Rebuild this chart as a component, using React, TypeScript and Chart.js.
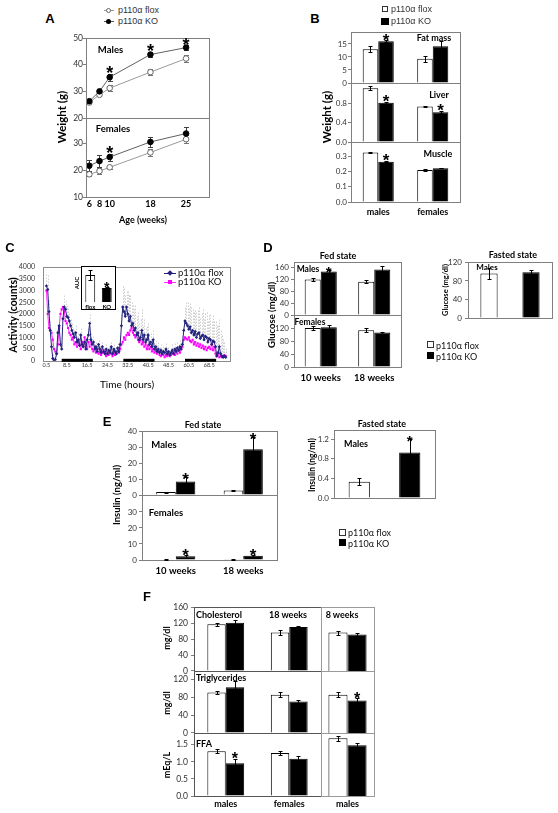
import React, { useEffect, useRef } from 'react';
import { Chart, registerables } from 'chart.js';
Chart.register(...registerables);

const FONT = 'Lato, "DejaVu Sans", sans-serif';
const ARIAL = '"Liberation Sans", Arial, sans-serif';
const AXIS = '#7f7f7f';
const TICK = '#333333';
const FLOX_FILL = '#ffffff';
const KO_FILL = '#000000';

// ---------------- Panel A : body weight ----------------
const A_WEEKS = [6, 8, 10, 18, 25];
const A_MALE_FLOX = [25.8, 28.7, 31.2, 37.2, 42.3];
const A_MALE_FLOX_ERR = [0.5, 0.5, 1.0, 1.2, 1.4];
const A_MALE_KO = [26.3, 30.0, 35.3, 43.8, 46.4];
const A_MALE_KO_ERR = [0.5, 0.5, 1.3, 1.0, 0.8];
const A_MALE_STARS = [false, false, true, true, true];
const A_FEMALE_FLOX = [18.4, 19.6, 21.0, 26.5, 31.4];
const A_FEMALE_FLOX_ERR = [0.6, 1.0, 0.5, 1.3, 1.5];
const A_FEMALE_KO = [21.6, 23.3, 24.8, 30.4, 33.5];
const A_FEMALE_KO_ERR = [2.0, 2.2, 1.3, 1.8, 2.5];
const A_FEMALE_STARS = [false, false, true, false, false];
const A_Y_TICKS_TOP = [20, 30, 40, 50];
const A_Y_TICKS_BOTTOM = [10, 20, 30];

// ---------------- Panel B : tissue weights ----------------
const B_GROUPS = ['males', 'females'];
const B_FAT_FLOX = [13.0, 9.3];
const B_FAT_FLOX_ERR = [1.2, 1.2];
const B_FAT_KO = [16.0, 14.1];
const B_FAT_KO_ERR = [0.4, 2.0];
const B_FAT_STARS = [true, false];
const B_LIVER_FLOX = [1.12, 0.74];
const B_LIVER_FLOX_ERR = [0.04, 0.02];
const B_LIVER_KO = [0.82, 0.62];
const B_LIVER_KO_ERR = [0.02, 0.02];
const B_LIVER_STARS = [true, true];
const B_MUSCLE_FLOX = [0.325, 0.21];
const B_MUSCLE_FLOX_ERR = [0.004, 0.004];
const B_MUSCLE_KO = [0.265, 0.222];
const B_MUSCLE_KO_ERR = [0.003, 0.002];
const B_MUSCLE_STARS = [true, false];
const B_FAT_TICKS = [0, 5, 10, 15];
const B_LIVER_TICKS = [0, 0.2, 0.4, 0.6, 0.8, 1.0];
const B_MUSCLE_TICKS = [0, 0.1, 0.2, 0.3];

// ---------------- Panel C : activity ----------------
const C_TICK_LABELS = ['0.5', '8.5', '16.5', '24.5', '32.5', '40.5', '48.5', '60.5', '68.5'];
const C_TICK_STEP = 16; // samples between labelled ticks
const C_Y_TICKS = [0, 500, 1000, 1500, 2000, 2500, 3000, 3500, 4000];
const C_FLOX = [
  3200, 3050, 2100, 1300, 600, 100, 0, 50, 300, 1200,
  1500, 700, 500, 1800, 2300, 2200, 1900, 1850, 1700, 1500,
  1300, 1150, 1000, 1200, 800, 900, 650, 1100, 700, 600,
  800, 500, 900, 1100, 1600, 900, 700, 800, 500, 600,
  400, 700, 500, 350, 600, 400, 300, 500, 300, 450,
  350, 600, 300, 500, 400, 300, 550, 400, 700, 1500,
  2300, 2100, 1900, 2300, 2000, 1700, 1900, 1500, 1600, 1300,
  1400, 1100, 1200, 900, 1000, 1300, 900, 1100, 800, 900,
  1100, 700, 800, 600, 900, 500, 600, 400, 500, 350,
  450, 300, 400, 350, 500, 300, 400, 250, 350, 450,
  300, 500, 400, 550, 450, 600, 500, 700, 1300, 1700,
  1600, 1500, 1350, 1450, 1200, 1300, 1100, 1250, 1000, 1150,
  1200, 950, 1050, 1100, 900, 1050, 1000, 800, 950, 900,
  700, 850, 800, 600, 200, 350, 600, 300, 200, 150,
  200, 150,
];
const C_FLOX_ERR = [
  500, 600, 500, 400, 300, 200, 150, 150, 200, 300,
  400, 300, 300, 400, 500, 400, 500, 400, 350, 300,
  300, 250, 300, 350, 250, 300, 250, 300, 250, 200,
  250, 200, 250, 300, 400, 300, 200, 250, 200, 200,
  150, 200, 150, 150, 200, 150, 150, 200, 150, 150,
  150, 200, 150, 200, 150, 150, 200, 150, 250, 500,
  900, 1000, 900, 700, 1000, 1100, 900, 1000, 800, 900,
  1000, 800, 900, 700, 800, 900, 600, 700, 600, 600,
  500, 400, 400, 300, 400, 300, 300, 250, 300, 250,
  250, 200, 250, 200, 250, 200, 200, 150, 200, 250,
  200, 250, 200, 250, 250, 300, 300, 350, 500, 600,
  900, 1000, 900, 1000, 1100, 900, 1000, 900, 1100, 1000,
  1100, 900, 1000, 1100, 900, 1000, 1100, 900, 1000, 1100,
  1000, 1100, 900, 1100, 1300, 1200, 1200, 1000, 900, 800,
  600, 400,
];
const C_KO = [
  3000, 2000, 1400, 1300, 1200, 900, 500, 400, 300, 700,
  1400, 2000, 2200, 2300, 2100, 1700, 1600, 1400, 1200, 1100,
  900, 1000, 700, 800, 600, 900, 700, 500, 800, 600,
  1000, 700, 500, 800, 600, 900, 500, 400, 600, 350,
  500, 300, 400, 250, 350, 450, 300, 200, 350, 250,
  400, 300, 200, 350, 250, 300, 400, 350, 500, 700,
  800, 1000, 900, 1100, 1200, 1100, 1300, 1400, 1200, 1100,
  1000, 1100, 900, 800, 900, 700, 800, 600, 700, 500,
  650, 500, 600, 400, 500, 350, 450, 300, 400, 250,
  200, 300, 250, 150, 250, 200, 300, 200, 250, 300,
  350, 250, 400, 300, 450, 350, 500, 600, 900, 1000,
  950, 900, 1000, 850, 800, 900, 700, 800, 650, 750,
  600, 700, 550, 650, 500, 600, 450, 550, 600, 500,
  700, 450, 600, 300, 200, 300, 150, 200, 150, 200,
  250, 200,
];
const C_DARK_PERIODS = [[12, 36.5], [60.5, 85], [109, 133.5]];
const C_AUC_GROUPS = ['flox', 'KO'];
const C_AUC = [100, 52];
const C_AUC_ERR = [19, 3];
const C_AUC_STARS = [false, true];

// ---------------- Panel D : glucose ----------------
const D_GROUPS = ['10 weeks', '18 weeks'];
const D_FED_M_FLOX = [120, 112];
const D_FED_M_FLOX_ERR = [6, 5];
const D_FED_M_KO = [147, 154];
const D_FED_M_KO_ERR = [5, 13];
const D_FED_M_STARS = [true, false];
const D_FED_F_FLOX = [120, 113];
const D_FED_F_FLOX_ERR = [6, 6];
const D_FED_F_KO = [122, 106];
const D_FED_F_KO_ERR = [7, 3];
const D_FAST_GROUPS = ['p110α flox', 'p110α KO'];
const D_FAST = [96, 99];
const D_FAST_ERR = [11, 4];
const D_TICKS_M = [0, 40, 80, 120, 160];
const D_TICKS_F = [0, 40, 80, 120];
const D_TICKS_FAST = [0, 40, 80, 120];

// ---------------- Panel E : insulin ----------------
const E_GROUPS = ['10 weeks', '18 weeks'];
const E_FED_M_FLOX = [1.8, 2.8];
const E_FED_M_FLOX_ERR = [0.3, 0.5];
const E_FED_M_KO = [8.4, 28.6];
const E_FED_M_KO_ERR = [2.6, 7.4];
const E_FED_M_STARS = [true, true];
const E_FED_F_FLOX = [0.3, 0.4];
const E_FED_F_FLOX_ERR = [0.1, 0.1];
const E_FED_F_KO = [2.4, 2.6];
const E_FED_F_KO_ERR = [1.0, 0.6];
const E_FED_F_STARS = [true, true];
const E_FAST_GROUPS = ['p110α flox', 'p110α KO'];
const E_FAST = [0.33, 0.93];
const E_FAST_ERR = [0.07, 0.27];
const E_FAST_STARS = [false, true];
const E_TICKS_M = [0, 10, 20, 30, 40];
const E_TICKS_F = [0, 10, 20, 30];
const E_TICKS_FAST = [0, 0.4, 0.8, 1.2];

// ---------------- Panel F : lipids ----------------
const F_GROUPS = ['males', 'females'];
const F_GROUPS_8W = ['males'];
const F_CHOL_FLOX = [118, 97];
const F_CHOL_FLOX_ERR = [4, 6];
const F_CHOL_KO = [122, 111];
const F_CHOL_KO_ERR = [7, 3];
const F_CHOL8_FLOX = [97];
const F_CHOL8_FLOX_ERR = [5];
const F_CHOL8_KO = [92];
const F_CHOL8_KO_ERR = [3];
const F_TG_FLOX = [91, 86];
const F_TG_FLOX_ERR = [3, 6];
const F_TG_KO = [103, 71];
const F_TG_KO_ERR = [13, 3];
const F_TG8_FLOX = [86];
const F_TG8_FLOX_ERR = [5];
const F_TG8_KO = [73];
const F_TG8_KO_ERR = [5];
const F_TG8_STARS = [true];
const F_FFA_FLOX = [1.31, 1.26];
const F_FFA_FLOX_ERR = [0.06, 0.07];
const F_FFA_KO = [0.96, 1.09];
const F_FFA_KO_ERR = [0.13, 0.07];
const F_FFA_STARS = [true, false];
const F_FFA8_FLOX = [1.69];
const F_FFA8_FLOX_ERR = [0.07];
const F_FFA8_KO = [1.48];
const F_FFA8_KO_ERR = [0.07];
const F_TICKS_CHOL = [0, 40, 80, 120, 160];
const F_TICKS_TG = [0, 40, 80, 120];
const F_TICKS_FFA = [0, 0.5, 1.0, 1.5];

// ---------------- plugins ----------------
function valOf(raw: any): number | null {
  if (typeof raw === 'number') return raw;
  if (raw && typeof raw === 'object') return raw.y;
  return null;
}

function drawErr(chart: any, behind: boolean) {
  const ctx = chart.ctx;
  chart.data.datasets.forEach((ds: any, i: number) => {
    if (!ds.errors || !!ds.errBehind !== behind) return;
    const meta = chart.getDatasetMeta(i);
    const ys = chart.scales[meta.yAxisID];
    ctx.save();
    ctx.strokeStyle = ds.errorColor || '#000';
    ctx.lineWidth = 1;
    if (ds.errorDash) ctx.setLineDash(ds.errorDash);
    const cap = ds.errorCap ?? 2;
    meta.data.forEach((el: any, j: number) => {
      const v = valOf(ds.data[j]);
      const e = ds.errors[j];
      if (v == null || !e) return;
      const x = Math.round(el.x) + 0.5;
      const y1 = Math.round(ys.getPixelForValue(v + e)) + 0.5;
      const y2 = Math.round(ds.errorUpOnly ? ys.getPixelForValue(v) : ys.getPixelForValue(v - e)) + 0.5;
      ctx.beginPath();
      ctx.moveTo(x, y1);
      ctx.lineTo(x, y2);
      if (cap > 0) {
        ctx.moveTo(x - cap, y1);
        ctx.lineTo(x + cap, y1);
        if (!ds.errorUpOnly) {
          ctx.moveTo(x - cap, y2);
          ctx.lineTo(x + cap, y2);
        }
      }
      ctx.stroke();
    });
    ctx.restore();
  });
}

const errorBarPlugin = {
  id: 'errbars',
  beforeDatasetsDraw(chart: any) { drawErr(chart, true); },
  afterDatasetsDraw(chart: any) { drawErr(chart, false); },
};

const starPlugin = {
  id: 'stars',
  afterDatasetsDraw(chart: any) {
    const ctx = chart.ctx;
    chart.data.datasets.forEach((ds: any, i: number) => {
      if (!ds.stars) return;
      const meta = chart.getDatasetMeta(i);
      const ys = chart.scales[meta.yAxisID];
      const size = ds.starSize || 17;
      const gap = ds.starGap ?? 3;
      ctx.save();
      ctx.fillStyle = '#000';
      ctx.font = `bold ${size}px ${ARIAL}`;
      ctx.textAlign = 'center';
      ctx.textBaseline = 'alphabetic';
      ds.stars.forEach((s: boolean, j: number) => {
        if (!s) return;
        const v = valOf(ds.data[j]);
        if (v == null) return;
        const e = (ds.errors && ds.errors[j]) || 0;
        const yTop = ys.getPixelForValue(v + e);
        ctx.fillText('*', meta.data[j].x, yTop - gap + size * 0.42);
      });
      ctx.restore();
    });
  },
};

const framePlugin = {
  id: 'frame',
  afterDatasetsDraw(chart: any, _a: any, opts: any) {
    if (!opts || !opts.color) return;
    const { left, top, right, bottom } = chart.chartArea;
    const ctx = chart.ctx;
    ctx.save();
    ctx.strokeStyle = opts.color;
    ctx.lineWidth = 1;
    ctx.strokeRect(Math.round(left) + 0.5, Math.round(top) + 0.5, Math.round(right - left), Math.round(bottom - top));
    ctx.restore();
  },
};

const darkPlugin = {
  id: 'dark',
  afterDatasetsDraw(chart: any, _a: any, opts: any) {
    if (!opts || !opts.periods) return;
    const xs = chart.scales.x;
    const b = chart.chartArea.bottom;
    const ctx = chart.ctx;
    ctx.save();
    ctx.fillStyle = '#000';
    opts.periods.forEach((p: number[]) => {
      const x0 = xs.getPixelForValue(p[0]);
      const x1 = xs.getPixelForValue(p[1]);
      ctx.fillRect(x0, b - 2, x1 - x0, 3);
    });
    ctx.restore();
  },
};

// ---------------- config helpers ----------------
type Geo = { l: number; t: number; w: number; h: number; yw: number; pt: number; pr: number; xh: number };

function yScale(o: { min?: number; max: number; ticks?: number[]; dec?: number; font?: number; yw: number; show: boolean; tickLen?: number; pad?: number }) {
  const tl = o.tickLen ?? 3;
  return {
    display: o.show,
    min: o.min ?? 0,
    max: o.max,
    afterBuildTicks: (s: any) => { if (o.ticks) s.ticks = o.ticks.map((v) => ({ value: v })); },
    afterFit: (s: any) => { s.width = o.show ? o.yw : 0; },
    grid: { display: true, drawOnChartArea: false, drawTicks: tl > 0, tickLength: tl, color: AXIS },
    border: { display: false },
    ticks: {
      font: { size: o.font ?? 8, family: FONT },
      color: TICK,
      padding: o.pad ?? 2,
      callback: (v: any) => (o.dec != null ? Number(v).toFixed(o.dec) : String(v)),
    },
  };
}

function xCat(o: { show: boolean; xh: number; font?: number; pad?: number }) {
  return {
    display: o.show,
    grid: { display: false, drawTicks: false },
    border: { display: false },
    ticks: { font: { size: o.font ?? 9, family: FONT, weight: 'bold' }, color: '#000', padding: o.pad ?? 3, maxRotation: 0, autoSkip: false },
    afterFit: (s: any) => { s.height = o.show ? o.xh : 0; },
  };
}

type Series = { values: number[]; errors?: number[]; stars?: boolean[]; fill: string | string[]; starGap?: number };

function baseOptions(g: Geo, showX: boolean, showY: boolean) {
  return {
    animation: false,
    responsive: false,
    maintainAspectRatio: false,
    devicePixelRatio: 1,
    events: [],
    layout: { padding: { top: g.pt, right: g.pr, bottom: showX ? 0 : g.xh, left: showY ? 0 : g.yw } },
  };
}

function barConfig(g: Geo, o: {
  labels: string[]; series: Series[]; max: number; ticks?: number[]; dec?: number; showY?: boolean; showX?: boolean;
  catPct: number; frame?: string | null; xFont?: number; xPad?: number; starSize?: number; yFont?: number; yPad?: number;
}) {
  const showY = o.showY !== false;
  const showX = !!o.showX;
  return {
    type: 'bar',
    data: {
      labels: o.labels,
      datasets: o.series.map((s) => ({
        data: s.values,
        backgroundColor: s.fill,
        borderColor: '#000',
        borderWidth: 1,
        errors: s.errors,
        stars: s.stars,
        starSize: o.starSize,
        starGap: s.starGap,
        barPercentage: 1,
        categoryPercentage: o.catPct,
      })),
    },
    options: {
      ...baseOptions(g, showX, showY),
      plugins: { legend: { display: false }, tooltip: { enabled: false }, frame: { color: o.frame === undefined ? AXIS : o.frame } },
      scales: {
        x: xCat({ show: showX, xh: g.xh, font: o.xFont, pad: o.xPad }),
        y: yScale({ max: o.max, ticks: o.ticks, dec: o.dec, yw: g.yw, show: showY, font: o.yFont, pad: o.yPad }),
      },
    },
    plugins: [framePlugin, errorBarPlugin, starPlugin],
  };
}

function lineAConfig(g: Geo, o: {
  flox: number[]; floxErr: number[]; ko: number[]; koErr: number[]; stars: boolean[]; min: number; max: number; ticks: number[]; showX: boolean;
}) {
  const pts = (arr: number[]) => A_WEEKS.map((x, i) => ({ x, y: arr[i] }));
  return {
    type: 'line',
    data: {
      datasets: [
        {
          data: pts(o.ko), borderColor: '#606060', borderWidth: 1, pointRadius: 2.8, pointBackgroundColor: '#000', pointBorderColor: '#000',
          pointBorderWidth: 1, errors: o.koErr, errBehind: true, errorColor: '#404040', errorCap: 2.5, stars: o.stars, starSize: 18, starGap: 2,
        },
        {
          data: pts(o.flox), borderColor: '#9a9a9a', borderWidth: 1, pointRadius: 2.8, pointBackgroundColor: '#fff', pointBorderColor: '#666',
          pointBorderWidth: 1, errors: o.floxErr, errBehind: true, errorColor: '#777', errorCap: 2.5,
        },
      ],
    },
    options: {
      ...baseOptions(g, o.showX, true),
      plugins: { legend: { display: false }, tooltip: { enabled: false }, frame: { color: AXIS } },
      scales: {
        x: {
          type: 'linear', min: 5.35, max: 29.5, display: o.showX,
          afterBuildTicks: (s: any) => { s.ticks = A_WEEKS.map((v) => ({ value: v })); },
          grid: { display: false, drawTicks: false }, border: { display: false },
          ticks: { font: { size: 9, weight: 'bold', family: FONT }, color: '#000', padding: 2, maxRotation: 0, autoSkip: false },
          afterFit: (s: any) => { s.height = o.showX ? g.xh : 0; },
        },
        y: yScale({ min: o.min, max: o.max, ticks: o.ticks, yw: g.yw, show: true, font: 8.5, pad: 0 }),
      },
    },
    plugins: [framePlugin, errorBarPlugin, starPlugin],
  };
}

function cConfig(g: Geo) {
  const pts = (arr: number[]) => arr.map((y, i) => ({ x: i, y }));
  return {
    type: 'line',
    data: {
      datasets: [
        {
          data: pts(C_FLOX), borderColor: '#23237e', borderWidth: 1, pointStyle: 'rectRot', pointRadius: 1.7,
          pointBackgroundColor: '#23237e', pointBorderWidth: 0, errors: C_FLOX_ERR, errBehind: true, errorUpOnly: true,
          errorCap: 0, errorColor: '#d0d0d0', errorDash: [1.5, 1.5],
        },
        {
          data: pts(C_KO), borderColor: '#ff33ff', borderWidth: 1, pointStyle: 'rect', pointRadius: 1.5,
          pointBackgroundColor: '#ff00ff', pointBorderWidth: 0,
        },
      ],
    },
    options: {
      ...baseOptions(g, true, true),
      plugins: { legend: { display: false }, tooltip: { enabled: false }, frame: { color: '#8c8c8c' }, dark: { periods: C_DARK_PERIODS } },
      scales: {
        x: {
          type: 'linear', min: -2.7, max: 144.4,
          afterBuildTicks: (s: any) => { s.ticks = C_TICK_LABELS.map((_, k) => ({ value: k * C_TICK_STEP })); },
          ticks: {
            callback: (_v: any, i: number) => C_TICK_LABELS[i] ?? '',
            font: { size: 5.5, family: FONT }, color: '#333', padding: 1, maxRotation: 0, autoSkip: false,
          },
          grid: { display: false, drawTicks: false }, border: { display: false },
          afterFit: (s: any) => { s.height = g.xh; },
        },
        y: yScale({ max: 4000, ticks: C_Y_TICKS, yw: g.yw, show: true, font: 7, tickLen: 0, pad: 8 }),
      },
    },
    plugins: [errorBarPlugin, framePlugin, darkPlugin],
  };
}

// ---------------- components ----------------
function Plot({ geo, make }: { geo: Geo; make: (g: Geo) => any }) {
  const ref = useRef<HTMLCanvasElement>(null);
  useEffect(() => {
    const chart = new Chart(ref.current as HTMLCanvasElement, make(geo));
    return () => chart.destroy();
  }, []);
  const W = Math.round(geo.yw + geo.w + geo.pr);
  const H = Math.round(geo.pt + geo.h + geo.xh);
  return (
    <canvas
      ref={ref}
      width={W}
      height={H}
      style={{ position: 'absolute', left: geo.l - geo.yw, top: geo.t - geo.pt, width: W, height: H }}
    />
  );
}

function T(p: { x: number; y: number; s?: number; b?: boolean; a?: 'c' | 'l' | 'r'; r?: number; f?: string; c?: string; children: any }) {
  const a = p.a ?? 'c';
  const tx = a === 'c' ? '-50%' : a === 'r' ? '-100%' : '0';
  return (
    <div
      style={{
        position: 'absolute', left: p.x, top: p.y, transform: `translate(${tx}, -50%) rotate(${p.r ?? 0}deg)`,
        fontSize: p.s ?? 9, fontWeight: p.b ? 700 : 400, fontFamily: p.f ?? FONT, color: p.c ?? '#000',
        whiteSpace: 'nowrap', lineHeight: 1,
      }}
    >
      {p.children}
    </div>
  );
}

function Sq(p: { x: number; y: number; w: number; h: number; fill: string; border?: string; radius?: string | number; rot?: number }) {
  return (
    <div
      style={{
        position: 'absolute', left: p.x, top: p.y, width: p.w, height: p.h, background: p.fill,
        border: p.border ? `1px solid ${p.border}` : 'none', boxSizing: 'border-box', borderRadius: p.radius ?? 0,
        transform: p.rot ? `rotate(${p.rot}deg)` : undefined,
      }}
    />
  );
}

const bars = (flox: number[], floxErr: number[], ko: number[], koErr: number[], stars?: boolean[], starGap?: number): Series[] => [
  { values: flox, errors: floxErr, fill: FLOX_FILL },
  { values: ko, errors: koErr, stars, fill: KO_FILL, starGap },
];

export default function App() {
  return (
    <div style={{ position: 'absolute', left: 0, top: 0, width: 558, height: 813, background: '#fff', overflow: 'hidden', fontFamily: FONT }}>
      {/* ---------- A ---------- */}
      <Plot geo={{ l: 86, t: 38, w: 123, h: 80, yw: 22, pt: 12, pr: 8, xh: 8 }}
        make={(g) => lineAConfig(g, { flox: A_MALE_FLOX, floxErr: A_MALE_FLOX_ERR, ko: A_MALE_KO, koErr: A_MALE_KO_ERR, stars: A_MALE_STARS, min: 20, max: 50, ticks: A_Y_TICKS_TOP, showX: false })} />
      <Plot geo={{ l: 86, t: 118, w: 123, h: 79, yw: 22, pt: 8, pr: 8, xh: 14 }}
        make={(g) => lineAConfig(g, { flox: A_FEMALE_FLOX, floxErr: A_FEMALE_FLOX_ERR, ko: A_FEMALE_KO, koErr: A_FEMALE_KO_ERR, stars: A_FEMALE_STARS, min: 10, max: 39.26, ticks: A_Y_TICKS_BOTTOM, showX: true })} />
      <T x={50} y={18} s={13} b f={ARIAL}>A</T>
      <Sq x={104} y={10} w={10} h={1} fill="#999" />
      <Sq x={106} y={7.5} w={5} h={5} fill="#fff" border="#666" radius="50%" />
      <T x={118} y={10} s={9} a="l" f={ARIAL} c="#333">p110α flox</T>
      <Sq x={104} y={20.5} w={10} h={1} fill="#555" />
      <Sq x={106} y={18.5} w={5} h={5} fill="#000" radius="50%" />
      <T x={118} y={21} s={9} a="l" f={ARIAL} c="#333">p110α KO</T>
      <T x={110.5} y={50} s={9.5} b>Males</T>
      <T x={113} y={128.5} s={9.5} b>Females</T>
      <T x={62} y={117} s={11.5} b r={-90}>Weight (g)</T>
      <T x={143} y={219} s={9} b>Age (weeks)</T>

      {/* ---------- B ---------- */}
      <Plot geo={{ l: 351, t: 32, w: 109, h: 51, yw: 24, pt: 12, pr: 6, xh: 8 }}
        make={(g) => barConfig(g, { labels: B_GROUPS, series: bars(B_FAT_FLOX, B_FAT_FLOX_ERR, B_FAT_KO, B_FAT_KO_ERR, B_FAT_STARS, 1), max: 19.6, ticks: B_FAT_TICKS, catPct: 0.57, yPad: 1 })} />
      <Plot geo={{ l: 351, t: 83, w: 109, h: 59, yw: 24, pt: 8, pr: 6, xh: 8 }}
        make={(g) => barConfig(g, { labels: B_GROUPS, series: bars(B_LIVER_FLOX, B_LIVER_FLOX_ERR, B_LIVER_KO, B_LIVER_KO_ERR, B_LIVER_STARS, 2), max: 1.23, ticks: B_LIVER_TICKS, dec: 1, catPct: 0.57, yPad: 1 })} />
      <Plot geo={{ l: 351, t: 142, w: 109, h: 60, yw: 24, pt: 10, pr: 6, xh: 17 }}
        make={(g) => barConfig(g, { labels: B_GROUPS, series: bars(B_MUSCLE_FLOX, B_MUSCLE_FLOX_ERR, B_MUSCLE_KO, B_MUSCLE_KO_ERR, B_MUSCLE_STARS, 2), max: 0.394, ticks: B_MUSCLE_TICKS, dec: 1, catPct: 0.57, showX: true, xFont: 9, xPad: 5, yPad: 1 })} />
      <T x={315} y={18} s={13} b f={ARIAL}>B</T>
      <Sq x={382} y={6} w={6} h={6} fill="#fff" border="#333" />
      <T x={391} y={9.3} s={9} a="l" f={ARIAL} c="#333">p110α flox</T>
      <Sq x={381} y={17.5} w={8} h={7} fill="#000" />
      <T x={391} y={21.3} s={9} a="l" f={ARIAL} c="#333">p110α KO</T>
      <T x={434} y={37.3} s={9} b>Fat mass</T>
      <T x={439} y={94} s={9} b>Liver</T>
      <T x={438} y={152.7} s={9} b>Muscle</T>
      <T x={327} y={117} s={11.5} b r={-90}>Weight (g)</T>

      {/* ---------- C ---------- */}
      <Plot geo={{ l: 43, t: 263, w: 187, h: 101, yw: 42, pt: 8, pr: 6, xh: 9 }} make={(g) => cConfig(g)} />
      <Sq x={81} y={266} w={35} h={44} fill="#fff" border="#000" />
      <Plot geo={{ l: 82, t: 268, w: 33, h: 34, yw: 0, pt: 6, pr: 0, xh: 8 }}
        make={(g) => barConfig(g, { labels: C_AUC_GROUPS, series: [{ values: C_AUC, errors: C_AUC_ERR, stars: C_AUC_STARS, fill: [FLOX_FILL, KO_FILL], starGap: 1 }], max: 126, showY: false, showX: true, catPct: 0.6, frame: null, xFont: 6, xPad: 1.5, starSize: 14 })} />
      <T x={10} y={247} s={13} b f={ARIAL}>C</T>
      <T x={77} y={283} s={6} b r={-90}>AUC</T>
      <Sq x={164} y={272.5} w={12} h={1} fill="#23237e" />
      <Sq x={168} y={271} w={4} h={4} fill="#23237e" rot={45} />
      <T x={178} y={273} s={9.5} a="l" c="#111">p110α flox</T>
      <Sq x={164} y={281.5} w={12} h={1} fill="#ff33ff" />
      <Sq x={168} y={280} w={4} h={4} fill="#ff00ff" />
      <T x={178} y={282} s={9.5} a="l" c="#111">p110α KO</T>
      <T x={13} y={315} s={10.5} b r={-90}>Activity (counts)</T>
      <T x={127} y={383.5} s={10}>Time (hours)</T>

      {/* ---------- D ---------- */}
      <Plot geo={{ l: 294, t: 262, w: 107, h: 53, yw: 22, pt: 8, pr: 6, xh: 8 }}
        make={(g) => barConfig(g, { labels: D_GROUPS, series: bars(D_FED_M_FLOX, D_FED_M_FLOX_ERR, D_FED_M_KO, D_FED_M_KO_ERR, D_FED_M_STARS, -1), max: 179, ticks: D_TICKS_M, catPct: 0.6, starSize: 15 })} />
      <Plot geo={{ l: 294, t: 315, w: 107, h: 52, yw: 22, pt: 8, pr: 6, xh: 18 }}
        make={(g) => barConfig(g, { labels: D_GROUPS, series: bars(D_FED_F_FLOX, D_FED_F_FLOX_ERR, D_FED_F_KO, D_FED_F_KO_ERR), max: 160, ticks: D_TICKS_F, catPct: 0.6, showX: true, xFont: 9.5, xPad: 5 })} />
      <Plot geo={{ l: 468, t: 262, w: 84, h: 56, yw: 22, pt: 8, pr: 5, xh: 8 }}
        make={(g) => barConfig(g, { labels: D_FAST_GROUPS, series: [{ values: D_FAST, errors: D_FAST_ERR, fill: [FLOX_FILL, KO_FILL] }], max: 121, ticks: D_TICKS_FAST, catPct: 0.41, yPad: 3 })} />
      <T x={268} y={247} s={13} b f={ARIAL}>D</T>
      <T x={338} y={254.7} s={9} b>Fed state</T>
      <T x={308} y={269.3} s={8.5} b>Males</T>
      <T x={310} y={321.7} s={8.5} b>Females</T>
      <T x={272} y={315} s={9.5} b r={-90}>Glucose (mg/dl)</T>
      <T x={513} y={254} s={9} b>Fasted state</T>
      <T x={487} y={267} s={8} b>Males</T>
      <T x={446} y={290} s={7.5} b r={-90}>Glucose (mg/dl)</T>
      <Sq x={427} y={341} w={7} h={7} fill="#fff" border="#333" />
      <T x={436} y={344.5} s={9} a="l" c="#111">p110α flox</T>
      <Sq x={427} y={352} w={7} h={7} fill="#000" />
      <T x={436} y={355.5} s={9} a="l" c="#111">p110α KO</T>

      {/* ---------- E ---------- */}
      <Plot geo={{ l: 142, t: 431, w: 135, h: 64, yw: 22, pt: 10, pr: 6, xh: 8 }}
        make={(g) => barConfig(g, { labels: E_GROUPS, series: bars(E_FED_M_FLOX, E_FED_M_FLOX_ERR, E_FED_M_KO, E_FED_M_KO_ERR, E_FED_M_STARS, 0), max: 40, ticks: E_TICKS_M, catPct: 0.58, starSize: 17 })} />
      <Plot geo={{ l: 142, t: 495, w: 135, h: 65, yw: 22, pt: 8, pr: 6, xh: 18 }}
        make={(g) => barConfig(g, { labels: E_GROUPS, series: bars(E_FED_F_FLOX, E_FED_F_FLOX_ERR, E_FED_F_KO, E_FED_F_KO_ERR, E_FED_F_STARS, 1), max: 40.6, ticks: E_TICKS_F, catPct: 0.58, showX: true, xFont: 9.5, xPad: 5, starSize: 17 })} />
      <Plot geo={{ l: 334, t: 430, w: 101, h: 68, yw: 24, pt: 10, pr: 6, xh: 8 }}
        make={(g) => barConfig(g, { labels: E_FAST_GROUPS, series: [{ values: E_FAST, errors: E_FAST_ERR, stars: E_FAST_STARS, fill: [FLOX_FILL, KO_FILL], starGap: 0 }], max: 1.39, ticks: E_TICKS_FAST, dec: 1, catPct: 0.42, starSize: 15 })} />
      <T x={107} y={421} s={13} b f={ARIAL}>E</T>
      <T x={203} y={424} s={9} b>Fed state</T>
      <T x={164} y={445} s={9.5} b>Males</T>
      <T x={166} y={513} s={9.5} b>Females</T>
      <T x={117} y={495} s={9.5} b r={-90}>Insulin (ng/ml)</T>
      <T x={382} y={422.7} s={9} b>Fasted state</T>
      <T x={356} y={443.3} s={9} b>Males</T>
      <T x={312} y={465} s={8.5} b r={-90}>Insulin (ng/ml)</T>
      <Sq x={339} y={528.5} w={7} h={7} fill="#fff" border="#333" />
      <T x={348} y={532} s={9} a="l" c="#111">p110α flox</T>
      <Sq x={339} y={539} w={7} h={7} fill="#000" />
      <T x={348} y={542.5} s={9} a="l" c="#111">p110α KO</T>

      {/* ---------- F ---------- */}
      <Plot geo={{ l: 194, t: 607, w: 127, h: 64, yw: 24, pt: 8, pr: 0, xh: 8 }}
        make={(g) => barConfig(g, { labels: F_GROUPS, series: bars(F_CHOL_FLOX, F_CHOL_FLOX_ERR, F_CHOL_KO, F_CHOL_KO_ERR), max: 161.5, ticks: F_TICKS_CHOL, catPct: 0.58, frame: '#555', yFont: 8.5, yPad: 3 })} />
      <Plot geo={{ l: 321, t: 607, w: 53, h: 64, yw: 0, pt: 8, pr: 6, xh: 8 }}
        make={(g) => barConfig(g, { labels: F_GROUPS_8W, series: bars(F_CHOL8_FLOX, F_CHOL8_FLOX_ERR, F_CHOL8_KO, F_CHOL8_KO_ERR), max: 161.5, showY: false, catPct: 0.72, frame: '#9a9a9a' })} />
      <Plot geo={{ l: 194, t: 671, w: 127, h: 62, yw: 24, pt: 8, pr: 0, xh: 8 }}
        make={(g) => barConfig(g, { labels: F_GROUPS, series: bars(F_TG_FLOX, F_TG_FLOX_ERR, F_TG_KO, F_TG_KO_ERR), max: 139.3, ticks: F_TICKS_TG, catPct: 0.58, frame: '#555', yFont: 8.5, yPad: 3 })} />
      <Plot geo={{ l: 321, t: 671, w: 53, h: 62, yw: 0, pt: 8, pr: 6, xh: 8 }}
        make={(g) => barConfig(g, { labels: F_GROUPS_8W, series: bars(F_TG8_FLOX, F_TG8_FLOX_ERR, F_TG8_KO, F_TG8_KO_ERR, F_TG8_STARS, 1), max: 139.3, showY: false, catPct: 0.72, frame: '#9a9a9a', starSize: 16 })} />
      <Plot geo={{ l: 194, t: 733, w: 127, h: 63, yw: 24, pt: 8, pr: 0, xh: 16 }}
        make={(g) => barConfig(g, { labels: F_GROUPS, series: bars(F_FFA_FLOX, F_FFA_FLOX_ERR, F_FFA_KO, F_FFA_KO_ERR, F_FFA_STARS, 1), max: 1.84, ticks: F_TICKS_FFA, dec: 1, catPct: 0.58, frame: '#555', showX: true, xFont: 9, xPad: 3, yFont: 8.5, yPad: 3, starSize: 16 })} />
      <Plot geo={{ l: 321, t: 733, w: 53, h: 63, yw: 0, pt: 8, pr: 6, xh: 16 }}
        make={(g) => barConfig(g, { labels: F_GROUPS_8W, series: bars(F_FFA8_FLOX, F_FFA8_FLOX_ERR, F_FFA8_KO, F_FFA8_KO_ERR), max: 1.84, showY: false, catPct: 0.72, frame: '#9a9a9a', showX: true, xFont: 9, xPad: 3 })} />
      <T x={147} y={596} s={13} b f={ARIAL}>F</T>
      <T x={196} y={614} s={9} b a="l">Cholesterol</T>
      <T x={288} y={614} s={9} b>18 weeks</T>
      <T x={342} y={614} s={9} b>8 weeks</T>
      <T x={196} y={677} s={9} b a="l">Triglycerides</T>
      <T x={196} y={742.7} s={9} b a="l">FFA</T>
      <T x={166} y={638} s={9} b r={-90}>mg/dl</T>
      <T x={166} y={703} s={9} b r={-90}>mg/dl</T>
      <T x={166} y={765} s={9} b r={-90}>mEq/L</T>
    </div>
  );
}
